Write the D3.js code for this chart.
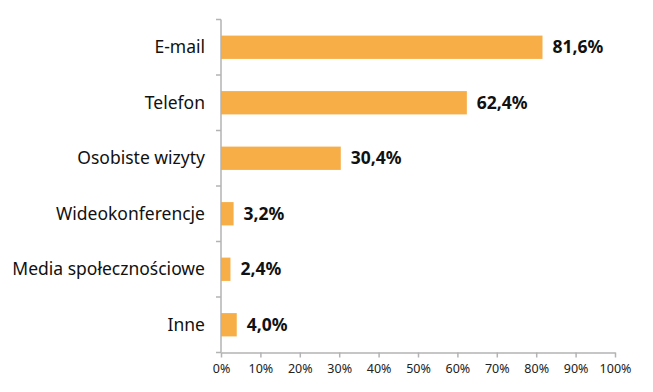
<!DOCTYPE html>
<html>
<head>
<meta charset="utf-8">
<script src="https://cdn.jsdelivr.net/npm/d3@7"></script>
<style>
  body { margin: 0; background: #fff; }
  svg { font-family: "Noto Sans", "Open Sans", sans-serif; }
</style>
</head>
<body>
<div id="chart"></div>
<script>
var width = 653,
    height = 392;

var categories = ["E-mail", "Telefon", "Osobiste wizyty", "Wideokonferencje", "Media społecznościowe", "Inne"];
var values = [81.6, 62.4, 30.4, 3.2, 2.4, 4.0];
var xTicks = [0, 10, 20, 30, 40, 50, 60, 70, 80, 90, 100];

var margin = {top: 19.5, right: 38, bottom: 39.5, left: 221};

var svg = d3.select("#chart").append("svg")
            .attr("width", width)
            .attr("height", height);

var x = d3.scaleLinear()
          .domain([0, 100])
          .range([margin.left, width - margin.right]);

var y = d3.scaleBand()
          .domain(categories)
          .range([margin.top, height - margin.bottom])
          .paddingInner(0.58)
          .paddingOuter(0.29);

// bars
svg.selectAll("rect.bar")
  .data(values)
  .enter()
  .append("rect")
  .attr("class", "bar")
  .attr("x", x(0))
  .attr("y", function(d, i) { return y(categories[i]); })
  .attr("width", function(d) { return x(d) - x(0); })
  .attr("height", y.bandwidth())
  .attr("fill", "#f8ae47");

// value labels
svg.selectAll("text.val")
  .data(values)
  .enter()
  .append("text")
  .attr("class", "val")
  .attr("x", function(d) { return x(d) + 10; })
  .attr("y", function(d, i) { return y(categories[i]) + y.bandwidth() / 2; })
  .attr("dy", "0.35em")
  .attr("font-size", 17.5)
  .attr("font-weight", "bold")
  .attr("fill", "#111")
  .text(function(d) { return d.toFixed(1).replace(".", ",") + "%"; });

// x axis
var xAxis = d3.axisBottom(x)
  .tickValues(xTicks)
  .tickSize(5)
  .tickSizeOuter(0)
  .tickFormat(function(d) { return d + "%"; });

var gx = svg.append("g")
  .attr("transform", "translate(0," + (height - margin.bottom) + ")")
  .call(xAxis);
gx.select(".domain").attr("stroke", "#b3b3b3").attr("stroke-width", 1.5);
gx.selectAll(".tick line").attr("stroke", "#b3b3b3").attr("stroke-width", 1.5);
gx.selectAll(".tick text")
  .attr("font-size", 12.5)
  .attr("fill", "#222")
  .attr("y", 12)
  .attr("font-family", "\"Noto Sans\", sans-serif");

// y axis: tick marks between bands
var bandEdges = d3.range(categories.length + 1).map(function(i) {
  return margin.top + i * y.step();
});
svg.append("line")
  .attr("x1", x(0)).attr("x2", x(0))
  .attr("y1", margin.top).attr("y2", height - margin.bottom)
  .attr("stroke", "#b3b3b3").attr("stroke-width", 1.5);
svg.selectAll("line.ytick")
  .data(bandEdges)
  .enter()
  .append("line")
  .attr("class", "ytick")
  .attr("x1", x(0) - 5).attr("x2", x(0))
  .attr("y1", function(d) { return d; })
  .attr("y2", function(d) { return d; })
  .attr("stroke", "#b3b3b3").attr("stroke-width", 1.5);

// category labels
svg.selectAll("text.cat")
  .data(categories)
  .enter()
  .append("text")
  .attr("class", "cat")
  .attr("x", x(0) - 16)
  .attr("y", function(d) { return y(d) + y.bandwidth() / 2; })
  .attr("dy", "0.35em")
  .attr("text-anchor", "end")
  .attr("font-size", 17.5)
  .attr("fill", "#111")
  .text(function(d) { return d; });
</script>
</body>
</html>
